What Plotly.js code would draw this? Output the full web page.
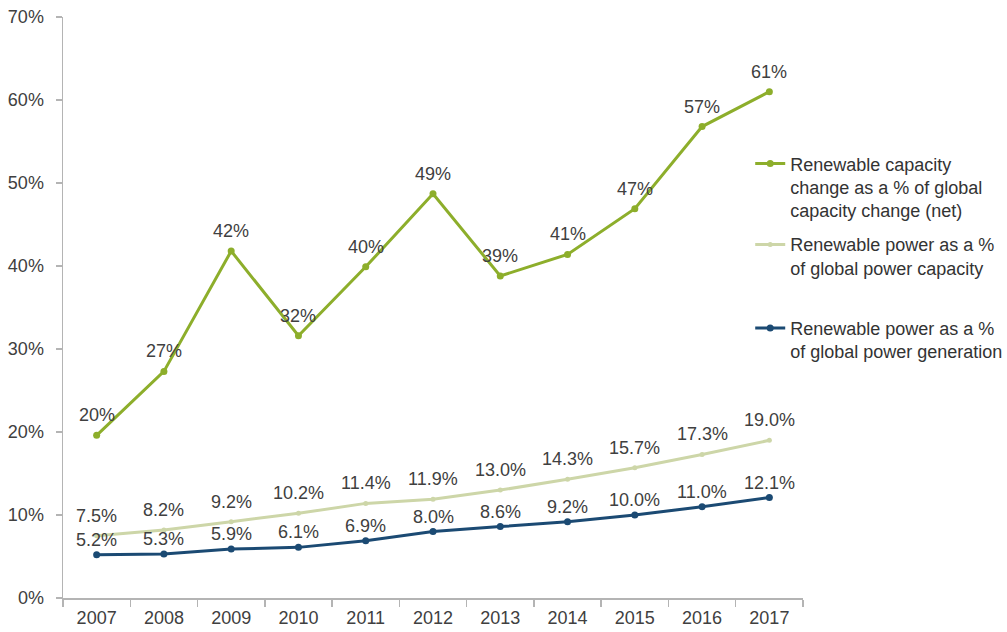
<!DOCTYPE html>
<html>
<head>
<meta charset="utf-8">
<script src="https://cdn.plot.ly/plotly-3.0.1.min.js"></script>
<style>
  html, body { margin: 0; padding: 0; background: #ffffff; }
  #chart { width: 1007px; height: 632px; }
</style>
</head>
<body>
<div id="chart"></div>
<script>
const years = ['2007','2008','2009','2010','2011','2012','2013','2014','2015','2016','2017'];
const capacityChangeShare = [19.6, 27.3, 41.8, 31.6, 39.9, 48.7, 38.8, 41.4, 46.9, 56.8, 61.0];
const capacityShare = [7.5, 8.2, 9.2, 10.2, 11.4, 11.9, 13.0, 14.3, 15.7, 17.3, 19.0];
const generationShare = [5.2, 5.3, 5.9, 6.1, 6.9, 8.0, 8.6, 9.2, 10.0, 11.0, 12.1];
const yTickValues = [0, 10, 20, 30, 40, 50, 60, 70];
const yTickLabels = ['0%', '10%', '20%', '30%', '40%', '50%', '60%', '70%'];

const seriesNames = [
  'Renewable capacity<br>change as a % of global<br>capacity change (net)',
  'Renewable power as a %<br>of global power capacity',
  'Renewable power as a %<br>of global power generation'
];

const FONT = 'Liberation Sans, Arial, sans-serif';
const TEXT = '#404040';
const C1 = '#8dae2b';
const C2 = '#cdd6a8';
const C3 = '#1b4a73';

const traces = [
  {x: years, y: capacityChangeShare, name: seriesNames[0], type: 'scatter', mode: 'lines+markers',
   line: {color: C1, width: 3}, marker: {color: C1, size: 7}, legend: 'legend', hoverinfo: 'skip'},
  {x: years, y: capacityShare, name: seriesNames[1], type: 'scatter', mode: 'lines+markers',
   line: {color: C2, width: 3}, marker: {color: C2, size: 5}, legend: 'legend2', hoverinfo: 'skip'},
  {x: years, y: generationShare, name: seriesNames[2], type: 'scatter', mode: 'lines+markers',
   line: {color: C3, width: 3}, marker: {color: C3, size: 7}, legend: 'legend3', hoverinfo: 'skip'}
];

const annotations = [];
function addLabels(values, fmt, shift) {
  values.forEach((v, i) => {
    annotations.push({x: i, y: v, xref: 'x', yref: 'y', text: fmt(v), showarrow: false,
      yshift: shift, font: {family: FONT, size: 18, color: TEXT}});
  });
}
addLabels(capacityChangeShare, v => Math.round(v) + '%', 20);
addLabels(capacityShare, v => v.toFixed(1) + '%', 20);
addLabels(generationShare, v => v.toFixed(1) + '%', 15);

function legendAt(yTop) {
  return {xref: 'container', yref: 'container', x: 0.745, y: yTop, xanchor: 'left', yanchor: 'top',
    bgcolor: 'rgba(0,0,0,0)', valign: 'top', font: {family: FONT, size: 18, color: '#333333'}};
}

const layout = {
  width: 1007, height: 632,
  margin: {l: 63, r: 204, t: 17, b: 34, autoexpand: false},
  paper_bgcolor: '#ffffff', plot_bgcolor: '#ffffff',
  font: {family: FONT, size: 18, color: TEXT},
  showlegend: true,
  legend: legendAt(0.77),
  legend2: legendAt(0.642),
  legend3: legendAt(0.51),
  xaxis: {type: 'category', range: [-0.5, 10.5], showline: true, linecolor: '#b4b4b4', linewidth: 1.5,
    ticks: 'outside', tickson: 'boundaries', ticklen: 7, tickcolor: '#b4b4b4', tickwidth: 1.5,
    showgrid: false, zeroline: false, automargin: false, ticklabelstandoff: 3,
    tickfont: {family: FONT, size: 18, color: TEXT}, fixedrange: true},
  yaxis: {range: [0, 70], tickvals: yTickValues, ticktext: yTickLabels, showline: true, linecolor: '#b4b4b4',
    linewidth: 1.5, ticks: 'outside', ticklen: 6, tickcolor: '#b4b4b4', tickwidth: 1.5, showgrid: false,
    zeroline: false, automargin: false, ticklabelstandoff: 8, tickfont: {family: FONT, size: 18, color: TEXT}, fixedrange: true},
  annotations: annotations
};

Plotly.newPlot('chart', traces, layout, {displayModeBar: false, staticPlot: true});
</script>
</body>
</html>
